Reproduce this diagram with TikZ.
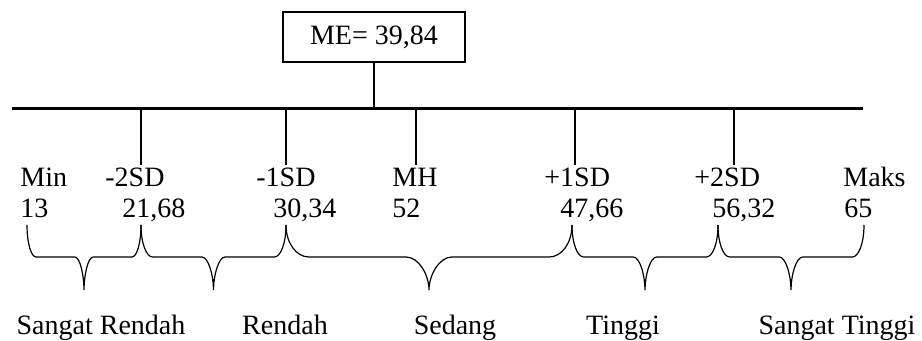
\documentclass[tikz,border=0pt]{standalone}
\usepackage{fontspec}
\setmainfont{Liberation Serif}

\begin{document}
\begin{tikzpicture}[x=0.5pt,y=-0.5pt,
    txt/.style={inner sep=0pt,font=\fontsize{14}{16}\selectfont},
    val node/.style={txt,anchor=base west},
    cat node/.style={txt,anchor=base},
    curly/.style={line width=0.6pt}]

    \useasboundingbox (0,0) rectangle (922,341);

    \node[txt,draw,line width=1.3pt,minimum width=91pt,minimum height=25pt] (me) at (374,37) {ME= 39,84};
    \coordinate (l) at (12,109);
    \coordinate (r) at (863,109);
    \draw[line width=1.5pt] (l) -- (r);
    \draw[line width=0.7pt] (me.south) -- (me.south |- l);

    % ticks under the line
    \foreach \x/\n in {141/a,286/b,416/c,575/d,734/e} {
        \coordinate (t\n) at (\x,165);
        \draw[line width=0.7pt] (t\n |- l) -- (t\n);
    }

    % scores
    \foreach \x/\y/\top/\bot [count=\i] in {20/20/Min/13,105/122/-2SD/{21,68},256/273/-1SD/{30,34},392/392/MH/52,544/560/+1SD/{47,66},694/712/+2SD/{56,32},843/844/Maks/65} {
        \node[val node] (s\i) at (\x,187) {\top};
        \node[val node] (v\i) at (\y,218) {\bot};
    }

    % braces and categories
    \foreach \xa/\xb in {27/141,141/286,286/572,572/718,718/864} {
        \pgfmathsetmacro\m{(\xa+\xb)/2}
        \pgfmathsetmacro\c{0.08*(\xb-\xa)}
        \draw[curly] (\xa,225) .. controls (\xa,243) and (\xa+0.45*\c,257) .. (\xa+\c,257)
            -- (\m-\c,257) .. controls (\m-0.45*\c,257) and (\m,275) .. (\m,290)
            .. controls (\m,275) and (\m+0.45*\c,257) .. (\m+\c,257)
            -- (\xb-\c,257) .. controls (\xb-0.45*\c,257) and (\xb,243) .. (\xb,225);
    }

    \node[cat node] (k1) at (101,335) {Sangat Rendah};
    \node[cat node] (k2) at (285,335) {Rendah};
    \node[cat node] (k3) at (455,335) {Sedang};
    \node[cat node] (k4) at (623,335) {Tinggi};
    \node[cat node] (k5) at (837,335) {Sangat Tinggi};
\end{tikzpicture}
\end{document}
